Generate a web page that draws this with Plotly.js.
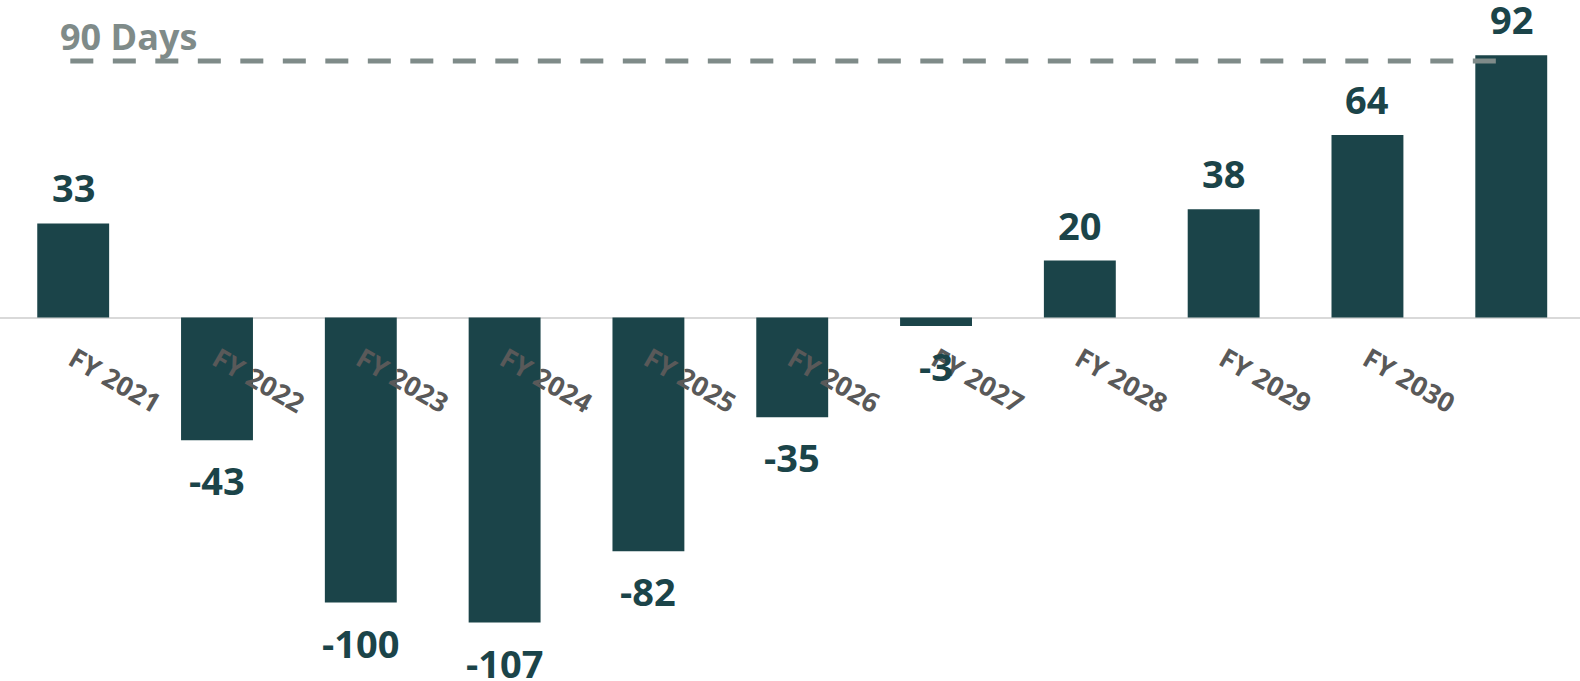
<!DOCTYPE html>
<html>
<head>
<meta charset="utf-8">
<script src="https://cdn.plot.ly/plotly-3.0.1.min.js"></script>
<style>
  html, body { margin: 0; padding: 0; background: #ffffff; }
  #chart { width: 1580px; height: 681px; }
</style>
</head>
<body>
<div id="chart"></div>
<script>
// ---- data ----
const categories = ["FY 2021", "FY 2022", "FY 2023", "FY 2024", "FY 2025", "FY 2026",
                    "FY 2027", "FY 2028", "FY 2029", "FY 2030", "FY 2031"];
const tickLabels = ["FY 2021", "FY 2022", "FY 2023", "FY 2024", "FY 2025", "FY 2026",
                    "FY 2027", "FY 2028", "FY 2029", "FY 2030", ""];
const daysValues = [33, -43, -100, -107, -82, -35, -3, 20, 38, 64, 92];
const targetDays = 90;
const targetLabel = "90 Days";

// ---- style ----
const barColor = "#1b4449";
const lineGray = "#7f8b89";
const labelGray = "#595959";

const yMin = -127.5, yMax = 111.4;
const zeroPos = (0 - yMin) / (yMax - yMin);

const trace = {
  type: "bar",
  x: categories,
  y: daysValues,
  marker: { color: barColor, line: { width: 0 } },
  hoverinfo: "x+y"
};

// value labels placed just beyond each bar end
const valueLabels = categories.map((c, i) => ({
  xref: "x", yref: "y",
  x: c, y: daysValues[i],
  xanchor: "center",
  yanchor: daysValues[i] >= 0 ? "bottom" : "top",
  yshift: daysValues[i] >= 0 ? 8 : -12,
  text: String(daysValues[i]),
  showarrow: false,
  font: { family: "Open Sans", size: 38, color: barColor, weight: 700 }
}));

const layout = {
  width: 1580,
  height: 681,
  margin: { l: 0, r: 0, t: 0, b: 0, pad: 0 },
  paper_bgcolor: "#ffffff",
  plot_bgcolor: "#ffffff",
  showlegend: false,
  bargap: 0.5,
  font: { family: "Open Sans" },
  xaxis: {
    type: "category",
    range: [-0.509, 10.478],
    anchor: "free",
    position: zeroPos,
    showline: false,
    showgrid: false,
    zeroline: false,
    ticks: "",
    tickangle: 30,
    tickvals: categories,
    ticktext: tickLabels,
    ticklabelstandoff: 20,
    tickfont: { family: "Open Sans", size: 27, color: labelGray, weight: 700 },
    fixedrange: true
  },
  yaxis: {
    range: [yMin, yMax],
    showgrid: false,
    showticklabels: false,
    ticks: "",
    zeroline: true,
    zerolinecolor: "#d9d9d9",
    zerolinewidth: 2,
    fixedrange: true
  },
  shapes: [{
    type: "line",
    xref: "x", yref: "y",
    x0: -0.02, x1: 9.92,
    y0: targetDays, y1: targetDays,
    layer: "above",
    line: { color: lineGray, width: 5, dash: "23px,19.5px" }
  }],
  annotations: [{
    xref: "x", yref: "y",
    x: 0, y: targetDays,
    xanchor: "left", yanchor: "bottom",
    xshift: -15, yshift: -2,
    text: targetLabel,
    showarrow: false,
    font: { family: "Open Sans", size: 36, color: lineGray, weight: 700 }
  }].concat(valueLabels)
};

Plotly.newPlot("chart", [trace], layout, { displayModeBar: false, staticPlot: true });
</script>
</body>
</html>
